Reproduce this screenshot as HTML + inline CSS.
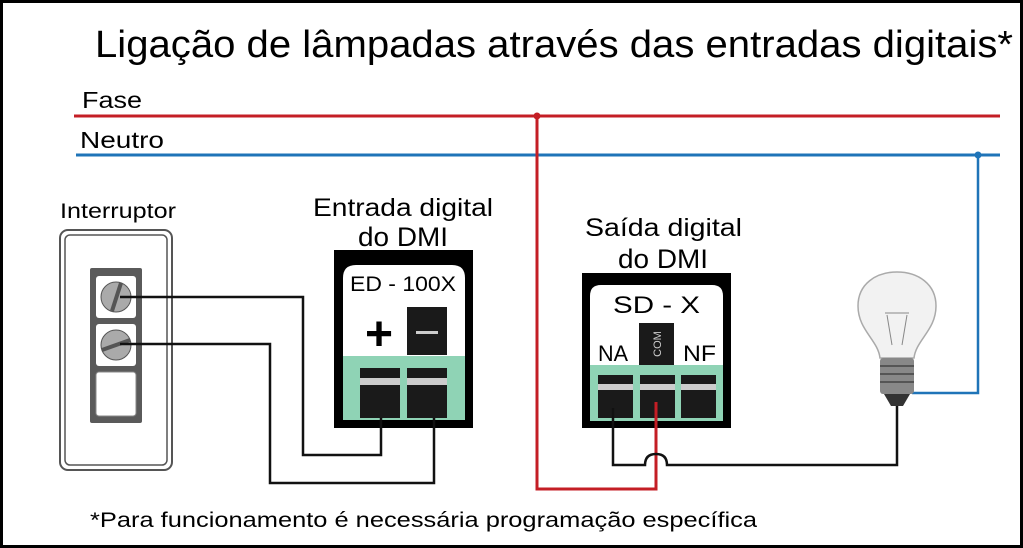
<!DOCTYPE html>
<html><head><meta charset="utf-8"><style>
html,body{margin:0;padding:0;background:#fff}
svg{display:block}
text{font-family:"Liberation Sans",sans-serif}
</style></head><body>
<svg width="1023" height="548" viewBox="0 0 1023 548" xmlns="http://www.w3.org/2000/svg">
<rect x="1.5" y="1.5" width="1020" height="545" fill="#fff" stroke="#000" stroke-width="3"/>
<text x="95" y="57" font-size="38" textLength="918" lengthAdjust="spacingAndGlyphs">Ligação de lâmpadas através das entradas digitais*</text>
<text x="82" y="108" font-size="23" textLength="60" lengthAdjust="spacingAndGlyphs">Fase</text>
<text x="80" y="148" font-size="23" textLength="84" lengthAdjust="spacingAndGlyphs">Neutro</text>
<line x1="74" y1="116" x2="1000" y2="116" stroke="#c41e25" stroke-width="3"/>
<line x1="76" y1="155" x2="1000" y2="155" stroke="#1f74b8" stroke-width="3"/>
<circle cx="537" cy="116" r="3.5" fill="#c41e25"/>
<circle cx="978" cy="155" r="3.5" fill="#1f74b8"/>
<polyline points="978,155 978,393 912,393" fill="none" stroke="#1f74b8" stroke-width="2.5"/>
<text x="60" y="218" font-size="21" textLength="116" lengthAdjust="spacingAndGlyphs">Interruptor</text>
<rect x="60" y="230" width="112" height="240" rx="8" fill="#fff" stroke="#555" stroke-width="2"/>
<rect x="65" y="235" width="102" height="230" rx="5" fill="none" stroke="#555" stroke-width="1.5"/>
<rect x="90" y="268" width="52" height="155" rx="2" fill="#5a5a5a"/>
<rect x="96" y="276" width="40" height="42" rx="3" fill="#fff"/>
<rect x="96" y="324" width="40" height="42" rx="3" fill="#fff"/>
<rect x="96" y="372" width="40" height="44" rx="3" fill="#fff" stroke="#888"/>
<circle cx="116" cy="297" r="15" fill="#aaa" stroke="#555"/>
<line x1="121" y1="283" x2="112" y2="311" stroke="#555" stroke-width="4"/>
<circle cx="116" cy="345" r="15" fill="#aaa" stroke="#555"/>
<line x1="102" y1="350" x2="130" y2="340" stroke="#555" stroke-width="4"/>
<text x="313" y="216" font-size="25" textLength="180" lengthAdjust="spacingAndGlyphs">Entrada digital</text>
<text x="358" y="246" font-size="27" textLength="90" lengthAdjust="spacingAndGlyphs">do DMI</text>
<rect x="334" y="250" width="139" height="178" fill="#000"/>
<path d="M343 356 V278 Q343 265 356 265 H452 Q465 265 465 278 V356 Z" fill="#fff"/>
<rect x="343" y="356" width="122" height="64" fill="#8fd3b5"/>
<text x="350" y="291" font-size="21" textLength="106" lengthAdjust="spacingAndGlyphs">ED - 100X</text>
<text x="379" y="350" font-size="48" font-weight="bold" text-anchor="middle">+</text>
<rect x="407" y="307" width="40" height="48" fill="#1a1a1a"/>
<rect x="416" y="331" width="22" height="3" fill="#ccc"/>
<rect x="360" y="368" width="40" height="50" fill="#1a1a1a"/>
<rect x="360" y="378" width="40" height="7" fill="#ccc"/>
<rect x="407" y="368" width="40" height="50" fill="#1a1a1a"/>
<rect x="407" y="378" width="40" height="7" fill="#ccc"/>
<g fill="none" stroke="#111" stroke-width="2.5">
<polyline points="120,297 303,297 303,455 381,455 381,418"/>
<polyline points="120,344 270,344 270,483 434,483 434,418"/>
</g>
<text x="585" y="236" font-size="25" textLength="157" lengthAdjust="spacingAndGlyphs">Saída digital</text>
<text x="618" y="268" font-size="27" textLength="90" lengthAdjust="spacingAndGlyphs">do DMI</text>
<rect x="582" y="273" width="149" height="155" fill="#000"/>
<path d="M590 365 V296 Q590 285 601 285 H712 Q723 285 723 296 V365 Z" fill="#fff"/>
<rect x="590" y="365" width="133" height="56" fill="#8fd3b5"/>
<text x="613" y="313" font-size="24" textLength="87" lengthAdjust="spacingAndGlyphs">SD - X</text>
<text x="598" y="361" font-size="22" textLength="30" lengthAdjust="spacingAndGlyphs">NA</text>
<text x="683" y="361" font-size="22" textLength="33" lengthAdjust="spacingAndGlyphs">NF</text>
<rect x="639" y="323" width="35" height="42" fill="#1a1a1a"/>
<text transform="translate(661,344) rotate(-90)" font-size="11" fill="#ccc" text-anchor="middle">COM</text>
<g fill="#1a1a1a">
<rect x="598" y="375" width="35" height="43"/><rect x="640" y="375" width="35" height="43"/><rect x="681" y="375" width="35" height="43"/>
</g>
<g fill="#ccc"><rect x="598" y="384" width="35" height="6"/><rect x="640" y="384" width="35" height="6"/><rect x="681" y="384" width="35" height="6"/></g>
<polyline points="537,116 537,489 656,489 656,402" fill="none" stroke="#c41e25" stroke-width="3"/>
<path d="M613,408 V465 H645 Q645,454 656,454 Q667,454 667,465 H897 V405" fill="none" stroke="#111" stroke-width="2.5"/>
<path d="M880 358 C878 340 858 330 858 306 C858 284 876 272 897 272 C918 272 936 284 936 306 C936 330 916 340 914 358 Z" fill="#f2f2f2" stroke="#aaa" stroke-width="1.5"/>
<path d="M887 315 L892 345 M907 315 L902 345 M885 313 H909" stroke="#888" stroke-width="1" fill="none"/>
<rect x="880" y="358" width="34" height="36" rx="3" fill="#888"/>
<g stroke="#444" stroke-width="1.5"><line x1="880" y1="366" x2="914" y2="366"/><line x1="880" y1="374" x2="914" y2="374"/><line x1="880" y1="382" x2="914" y2="382"/></g>
<path d="M884 394 H910 L903 406 H891 Z" fill="#333"/>
<text x="90" y="527" font-size="21" textLength="667" lengthAdjust="spacingAndGlyphs">*Para funcionamento é necessária programação específica</text>
</svg>
</body></html>
